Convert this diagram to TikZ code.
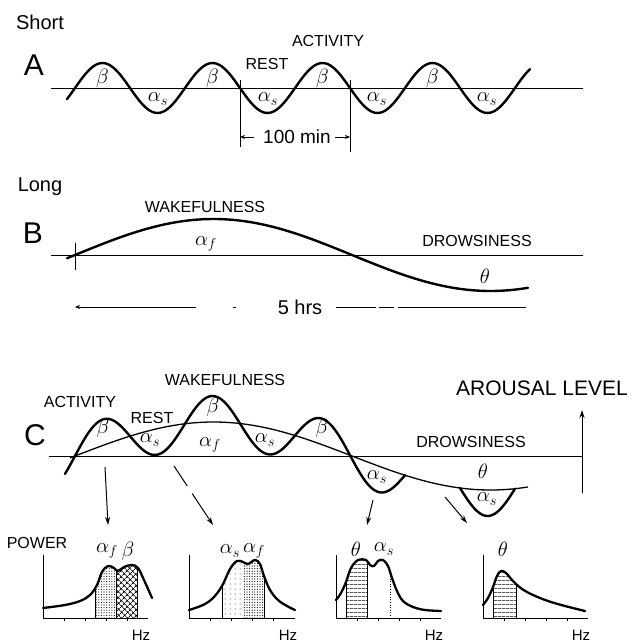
\documentclass[tikz,border=0pt]{standalone}
\usepackage{fontspec}
\setmainfont{Liberation Sans}
\usetikzlibrary{arrows.meta,patterns.meta}

% spectrum outlines
\newcommand{\specone}{plot[smooth,tension=0.6] coordinates {(43,608) (65,605) (80,601) (90,595) (97,585) (102,572) (108,566) (114,568) (118,571) (124,567) (132,565) (138,568) (144,580) (152,598)}}
\newcommand{\spectwo}{plot[smooth,tension=0.6] coordinates {(189,610) (203,605) (213,598) (222,586) (230,569) (237,561) (243,562) (248,564) (255,560) (260,564) (264,576) (270,590) (278,600) (287,606) (295,610)}}
\newcommand{\specthree}{plot[smooth,tension=0.6] coordinates {(336,600) (341,593) (346,582) (351,568) (358,560) (366,560) (370,565) (374,566) (378,561) (383,560) (388,566) (392,578) (397,591) (403,601) (413,607) (425,610) (441,611)}}
\newcommand{\specfour}{plot[smooth,tension=0.6] coordinates {(483,605) (488,598) (493,587) (497,576) (501,571) (506,573) (513,581) (522,589) (533,595) (548,601) (565,606) (585,611)}}

\begin{document}
\begin{tikzpicture}[x=1pt,y=-1pt,
    wave/.style={line width=2.4pt, line join=round, line cap=round},
    slow/.style={line width=1.3pt},
    base/.style={line width=0.9pt},
    spec/.style={line width=2.3pt, line join=round, line cap=round},
    lbl/.style={font=\fontsize{16}{18}\selectfont, inner sep=0pt},
    head/.style={font=\fontsize{20}{22}\selectfont, inner sep=0pt},
    big/.style={font=\fontsize{30}{32}\selectfont, inner sep=0pt},
    grk/.style={font=\fontsize{21}{23}\selectfont, inner sep=0pt},
    ptr/.style={-{Stealth[length=8pt,width=5pt]}, line width=1pt},
    dim/.style={-{Stealth[length=5pt,width=4pt]}, line width=0.7pt}]

  \useasboundingbox (0,0) rectangle (633,644);

  % --- A: short rhythm
  \node[head] (short) at (40,22) {Short};
  \node[big] (lettera) at (34,65) {A};
  \node[lbl] (actA) at (328,41) {ACTIVITY};
  \node[lbl] (restA) at (267,64) {REST};
  \draw[base] (51,88) -- (583,88);
  \draw[wave] plot[domain=67:530,samples=180] (\x,{88-25*sin(3.272727*(\x-75))});
  \foreach \x [count=\i] in {102.5,212.5,322.5,432.5}
    \node[grk] (betaA\i) at (\x,78) {$\beta$};
  \foreach \x [count=\i] in {158,268,377,487}
    \node[grk] (alsA\i) at (\x,99) {$\alpha_s$};
  \coordinate (mkl) at (240,80);
  \coordinate (mklb) at (240,147);
  \coordinate (mkr) at (350,80);
  \coordinate (mkrb) at (350,152);
  \draw[base] (mkl) -- (mklb);
  \draw[base] (mkr) -- (mkrb);
  \node[head, font=\fontsize{19}{21}\selectfont] (period) at (297,137) {100 min};
  \draw[dim] ([xshift=-9pt]period.west) -- (mkl |- period.west);
  \draw[dim] ([xshift=4pt]period.east) -- (mkr |- period.east);

  % --- B: long rhythm
  \node[head] (long) at (40,187) {Long};
  \node[big] (letterb) at (33,233) {B};
  \node[lbl] (wakeB) at (205,207) {WAKEFULNESS};
  \node[lbl] (drowB) at (477,241) {DROWSINESS};
  \draw[base] (51,255) -- (583,255);
  \coordinate (tickt) at (75,243);
  \coordinate (tickb) at (75,270);
  \draw[base] (tickt) -- (tickb);
  \draw[wave] plot[domain=67:528,samples=120] (\x,{255-36*sin(0.649819*(\x-75))});
  \node[grk] (alfB) at (206,244) {$\alpha_f$};
  \node[grk] (thB) at (485,276) {$\theta$};
  \node[head] (hours) at (300,307) {5 hrs};
  \coordinate (hl) at (75,307);
  \coordinate (hm) at (236,307);
  \coordinate (hr) at (526,307);
  \draw[{Stealth[length=5pt,width=4pt]}-, line width=0.7pt, dash pattern=on 118pt off 37pt on 10pt] (hl) -- (hm);
  \draw[line width=0.7pt, dash pattern=on 40pt off 3pt on 15pt off 4pt on 200pt] ([xshift=14pt]hours.east) -- (hr);

  % --- C: both rhythms
  \node[big] (letterc) at (35,435) {C};
  \node[lbl] (actC) at (80,402) {ACTIVITY};
  \node[lbl] (wakeC) at (225,380) {WAKEFULNESS};
  \node[lbl] (restC) at (152,418) {REST};
  \node[lbl] (drowC) at (471,442) {DROWSINESS};
  \node[font=\fontsize{21}{23}\selectfont, inner sep=0pt] (arousal) at (542,388) {AROUSAL LEVEL};
  \draw[base] (49,456) -- (582,456);
  \coordinate (arlo) at (582,493);
  \coordinate (arhi) at (582,410);
  \draw[-{Stealth[length=8pt,width=5pt]}, line width=0.9pt] (arlo) -- (arhi);
  \draw[slow] plot[domain=70:528,samples=120] (\x,{456-34*sin(0.649819*(\x-75))});
  \draw[wave] plot[domain=65:405,samples=220] (\x,{456-34*sin(0.649819*(\x-75))-26*sin(3.272727*(\x-75))});
  \draw[wave] plot[domain=460:515,samples=40] (\x,{456-34*sin(0.649819*(\x-75))-26*sin(3.272727*(\x-75))});
  \node[grk] (betaC1) at (103,428) {$\beta$};
  \node[grk] (betaC2) at (213,407) {$\beta$};
  \node[grk] (betaC3) at (322,428) {$\beta$};
  \node[grk] (alsC1) at (150,440) {$\alpha_s$};
  \node[grk] (alfC) at (210,445) {$\alpha_f$};
  \node[grk] (alsC2) at (265,440) {$\alpha_s$};
  \node[grk] (alsC3) at (377,477) {$\alpha_s$};
  \node[grk] (alsC4) at (487,499) {$\alpha_s$};
  \node[grk] (thC) at (483,471) {$\theta$};

  % pointers down to the spectra
  \coordinate (pa) at (105,467);
  \coordinate (pa') at (108,525);
  \coordinate (pb) at (174,466);
  \coordinate (pb') at (213,525);
  \coordinate (pc) at (373,500);
  \coordinate (pc') at (367,525);
  \coordinate (pd) at (445,497);
  \coordinate (pd') at (467,523);
  \draw[ptr] (pa) -- (pa');
  \draw[ptr, dash pattern=on 24pt off 9pt on 60pt] (pb) -- (pb');
  \draw[ptr] (pc) -- (pc');
  \draw[ptr] (pd) -- (pd');

  % --- power spectra
  \node[lbl] (power) at (37,543) {POWER};
  \foreach \o/\e [count=\i] in {43/148,189/295,336/441,483/588} {
    \draw[base] (\o,555) -- (\o,618) -- (\e,618);
    \foreach \k in {1,...,4}
      \draw[base] (\o+21*\k,618) -- ++(0,3);
    \node[font=\fontsize{15}{17}\selectfont, inner sep=0pt] (hz\i) at (\e-7,635) {Hz};
  }

  \begin{scope}
    \clip \specone -- (152,618) -- (43,618) -- cycle;
    \fill[pattern={Dots[distance=2.6pt,radius=0.55pt]}] (95,550) rectangle (116,618);
    \fill[pattern={Hatch[angle=45,distance=4pt,line width=0.7pt]}] (116,550) rectangle (137,618);
    \draw[line width=0.6pt] (95,550) -- (95,618) (116,550) -- (116,618) (137,550) -- (137,618);
  \end{scope}
  \draw[spec] \specone;
  \node[grk] (alfS1) at (107,551) {$\alpha_f$};
  \node[grk] (betaS1) at (128,551) {$\beta$};

  \begin{scope}
    \clip \spectwo -- (295,618) -- (189,618) -- cycle;
    \fill[pattern={Dots[distance=5pt,radius=0.5pt]}] (222,550) rectangle (243,618);
    \fill[pattern={Dots[distance=2.6pt,radius=0.6pt]}] (243,550) rectangle (264,618);
    \draw[line width=0.6pt] (222,550) -- (222,618) (264,550) -- (264,618);
  \end{scope}
  \draw[spec] \spectwo;
  \node[grk] (alsS2) at (230,551) {$\alpha_s$};
  \node[grk] (alfS2) at (254,551) {$\alpha_f$};

  \begin{scope}
    \clip \specthree -- (441,618) -- (336,618) -- cycle;
    \fill[pattern={Lines[angle=0,distance=4pt,line width=0.6pt]}] (346,550) rectangle (367,618);
    \draw[line width=0.6pt] (346,550) -- (346,618) (367,550) -- (367,618);
    \draw[line width=0.6pt, dotted] (390,550) -- (390,618);
  \end{scope}
  \draw[spec] \specthree;
  \node[grk] (thS3) at (356,549) {$\theta$};
  \node[grk] (alsS3) at (384,549) {$\alpha_s$};

  \begin{scope}
    \clip \specfour -- (585,618) -- (483,618) -- cycle;
    \fill[pattern={Lines[angle=0,distance=4pt,line width=0.6pt]}] (493,550) rectangle (516,618);
    \draw[line width=0.6pt] (493,550) -- (493,618) (516,550) -- (516,618);
  \end{scope}
  \draw[spec] \specfour;
  \node[grk] (thS4) at (503,549) {$\theta$};
\end{tikzpicture}
\end{document}
